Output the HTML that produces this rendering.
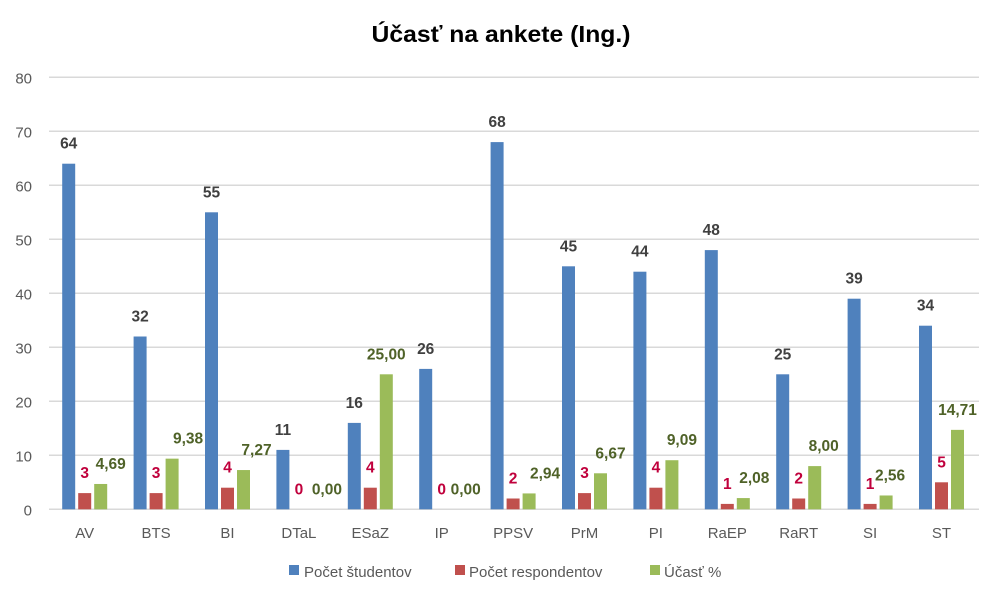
<!DOCTYPE html>
<html><head><meta charset="utf-8"><style>
html,body{margin:0;padding:0;background:#fff;}
svg{display:block;font-family:"Liberation Sans",sans-serif;}
</style></head><body>
<svg id="s" width="1005" height="601" viewBox="0 0 1005 601" xmlns="http://www.w3.org/2000/svg">
<rect width="1005" height="601" fill="#fff"/>
<text x="501" y="42" text-anchor="middle" font-size="23" font-weight="bold" fill="#000" textLength="259" lengthAdjust="spacingAndGlyphs">Účasť na ankete (Ing.)</text>
<g id="g"></g>
</svg>
<script>
var g=document.getElementById('g'),h='';
function Y(v){return 509.3-5.4*v;}
for(var k=0;k<=8;k++){var y=Y(k*10);h+='<line x1="49" x2="979" y1="'+y+'" y2="'+y+'" stroke="#d9d9d9" stroke-width="1.5"/>';h+='<text x="32" y="'+(y+6)+'" text-anchor="end" font-size="15" fill="#595959">'+(k*10)+'</text>';}
var cats=['AV','BTS','BI','DTaL','ESaZ','IP','PPSV','PrM','PI','RaEP','RaRT','SI','ST'];
var B=[64,32,55,11,16,26,68,45,44,48,25,39,34],R=[3,3,4,0,4,0,2,3,4,1,2,1,5],G=[4.69,9.38,7.27,0,25,0,2.94,6.67,9.09,2.08,8,2.56,14.71];
var goff=[10,16,13,12,0,8,16,10,10,11,9,4,0];
for(var i=0;i<13;i++){var c=84.7+71.4*i;
h+='<rect x="'+(c-22.5)+'" y="'+Y(B[i])+'" width="13" height="'+(5.4*B[i])+'" fill="#4f81bd"/>';
h+='<rect x="'+(c-6.5)+'" y="'+Y(R[i])+'" width="13" height="'+(5.4*R[i])+'" fill="#c0504d"/>';
h+='<rect x="'+(c+9.5)+'" y="'+Y(G[i])+'" width="13" height="'+(5.4*G[i])+'" fill="#9bbb59"/>';
h+='<text x="'+(c-16)+'" y="'+(Y(B[i])-15)+'" text-anchor="middle" font-size="15.5" font-weight="bold" fill="#404040">'+B[i]+'</text>';
h+='<text x="'+c+'" y="'+(Y(R[i])-15)+'" text-anchor="middle" font-size="15.5" font-weight="bold" fill="#c0003c">'+R[i]+'</text>';
h+='<text x="'+(c+16+goff[i])+'" y="'+(Y(G[i])-15)+'" text-anchor="middle" font-size="15.5" font-weight="bold" fill="#4f6228">'+G[i].toFixed(2).replace('.',',')+'</text>';
h+='<text x="'+c+'" y="538" text-anchor="middle" font-size="15" fill="#595959">'+cats[i]+'</text>';}
h+='<rect x="289" y="565" width="10" height="10" fill="#4f81bd"/><text x="304" y="577" font-size="15" fill="#595959">Počet študentov</text>';
h+='<rect x="455" y="565" width="10" height="10" fill="#c0504d"/><text x="469" y="577" font-size="15" fill="#595959">Počet respondentov</text>';
h+='<rect x="650" y="565" width="10" height="10" fill="#9bbb59"/><text x="664" y="577" font-size="15" fill="#595959">Účasť %</text>';
g.innerHTML=h;
</script>
</body></html>
